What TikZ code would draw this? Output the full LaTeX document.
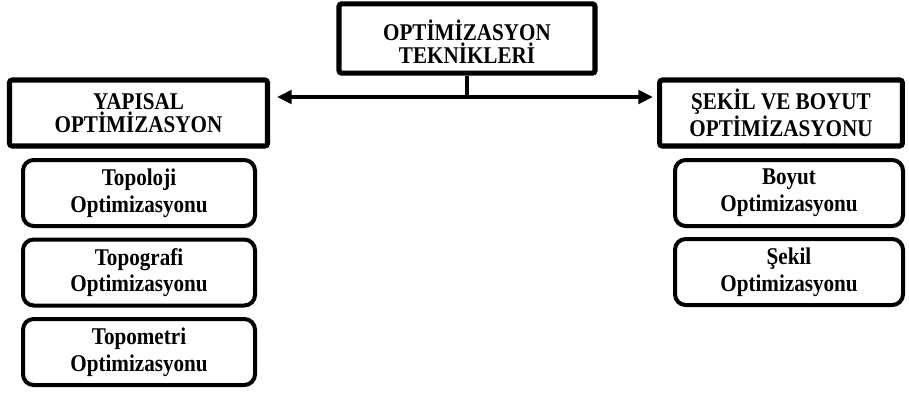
\documentclass[tikz,border=0pt]{standalone}
\usepackage{fontspec}
\setmainfont[FakeStretch=0.88]{Liberation Serif}
\usetikzlibrary{arrows.meta}
\begin{document}
\begin{tikzpicture}[x=0.75pt,y=-0.75pt,
  head/.style={draw,line width=3.8pt,rounded corners=2pt,align=center,inner sep=0pt,
    font=\bfseries\fontsize{18}{17}\selectfont,minimum height=49.5pt},
  sub/.style={draw,line width=3pt,rounded corners=8pt,align=center,inner sep=0pt,
    font=\bfseries\fontsize{18}{20}\selectfont,minimum height=49.5pt},
  conn/.style={line width=3pt},
  tip/.style={conn,-{Triangle[length=11pt,width=10pt]}}]
\useasboundingbox (0,0) rectangle (909,394);
\node[head,font=\bfseries\fontsize{18}{17.5}\selectfont,minimum width=192pt,minimum height=52pt] (top) at (467,38.5) {\rule{0pt}{20pt}OPTİMİZASYON\\TEKNİKLERİ};
\node[head,minimum width=193.5pt] (yap) at (138.5,113) {YAPISAL\\OPTİMİZASYON};
\node[head,minimum width=182pt] (sek) at (781,113) {ŞEKİL VE BOYUT\\OPTİMİZASYONU};
\node[sub,minimum width=174pt] (t1) at (139,193) {Topoloji\\Optimizasyonu};
\node[sub,minimum width=174pt] (t2) at (139,272.5) {Topografi\\Optimizasyonu};
\node[sub,minimum width=174pt] (t3) at (139,352) {Topometri\\Optimizasyonu};
\node[sub,minimum width=171pt] (b1) at (789,193) {Boyut\\Optimizasyonu};
\node[sub,minimum width=171pt] (s1) at (789,272) {Şekil\\Optimizasyonu};
\coordinate (j) at (467,97);
\coordinate (lt) at (277,97);
\coordinate (rt) at (653,97);
\draw[conn] (top.south) -- (j);
\draw[tip] (j) -- (lt);
\draw[tip] (j) -- (rt);
\end{tikzpicture}
\end{document}
